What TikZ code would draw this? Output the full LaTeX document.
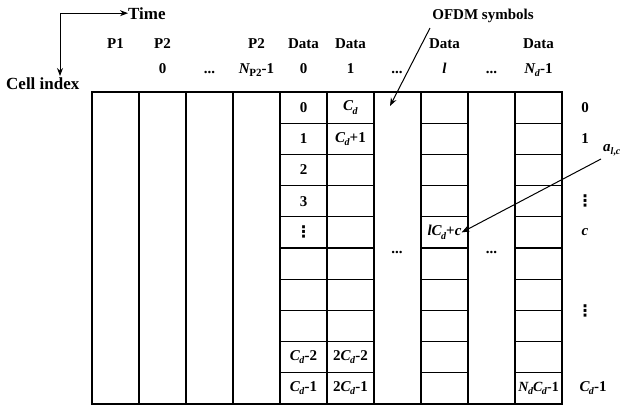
\documentclass[tikz,border=0pt]{standalone}
\usepackage{fontspec}
\setmainfont{Liberation Serif}
\newfontfamily\dvfont{DejaVu Sans}
\usetikzlibrary{arrows.meta}
\newcommand{\Cd}{\textit{C}\kern-0.05em\raisebox{-0.22em}{\fontsize{10}{10}\selectfont\textit{d}}}
\newcommand{\Nd}{\textit{N}\kern-0.05em\raisebox{-0.22em}{\fontsize{10}{10}\selectfont\textit{d}}}
\newcommand{\myvdots}{{\dvfont\bfseries\fontsize{16}{18}\selectfont ⋮}}
\begin{document}
\begin{tikzpicture}[x=1pt,y=-1pt,
  every node/.style={font=\fontsize{15}{18}\selectfont\bfseries, inner sep=0pt},
  big/.style={font=\fontsize{17}{20}\selectfont\bfseries},
  gridline/.style={line width=1.2pt},
  arr/.style={line width=1pt,-{Stealth[length=8pt,width=6pt]}}]
\useasboundingbox (0,0) rectangle (626,408);
% grid
\draw[gridline] (92,92) rectangle (562,404);
\foreach \i in {1,...,9} \draw[gridline] (92+47*\i,92) -- (92+47*\i,404);
\foreach \j in {1,...,9} {
  \draw[gridline] (280,92+31.2*\j) -- (373,92+31.2*\j);
  \draw[gridline] (421,92+31.2*\j) -- (468,92+31.2*\j);
  \draw[gridline] (515,92+31.2*\j) -- (562,92+31.2*\j);
}
% axes
\node[big,anchor=base west] (time) at (128,19) {Time};
\node[big,anchor=base west] (cell) at (6,89) {Cell index};
\coordinate (corner) at (60,14);
\coordinate (down) at (60,76);
\draw[arr] (down |- time.west) -- (time.west);
\draw[arr] (corner) -- (down);
% header row 1
\foreach \x/\t/\n in {115.5/P1/h1, 162.5/P2/h2, 256.5/P2/h3, 303.5/Data/h4, 350.5/Data/h5, 444.5/Data/h6, 538.5/Data/h7}
  \node[anchor=base] (\n) at (\x,48) {\t};
% header row 2
\node[anchor=base] (r0) at (162.5,73) {0};
\node[anchor=base] (r1) at (209.5,73) {...};
\node[anchor=base] (r2) at (256.5,73) {\textit{N}\kern-0.05em\raisebox{-0.22em}{\fontsize{11}{11}\selectfont P2}-1};
\node[anchor=base] (r3) at (303.5,73) {0};
\node[anchor=base] (r4) at (350.5,73) {1};
\node[anchor=base] (r5) at (397,73) {...};
\node[anchor=base] (r6) at (444.5,73) {\textit{l}};
\node[anchor=base] (r7) at (491.5,73) {...};
\node[anchor=base] (r8) at (538.5,73) {\Nd-1};
% cells column Data 0
\foreach \j/\t/\n in {1/0/a1, 2/1/a2, 3/2/a3, 4/3/a4, 5/\myvdots/a5, 9/\Cd-2/a9, 10/\Cd-1/a10}
  \node (\n) at (303.5,92+31.2*\j-15.6) {\t};
\foreach \j/\t/\n in {1/\Cd/b1, 2/\Cd+1/b2, 9/2\Cd-2/b9, 10/2\Cd-1/b10}
  \node (\n) at (350.5,92+31.2*\j-15.6) {\t};
\node (lc) at (444.5,232.4) {\textit{l}\Cd+\textit{c}};
\node (ndcd) at (538.5,388.4) {\fontsize{14}{16}\selectfont\Nd\Cd-1};
% dots in empty columns
\node[anchor=base] (d1) at (397,253) {...};
\node[anchor=base] (d2) at (491.5,253) {...};
% right labels
\node (c0) at (585,107.6) {0};
\node (c1) at (585,138.8) {1};
\node (c2) at (585,201.2) {\myvdots};
\node (c3) at (585,232.4) {\textit{c}};
\node (c4) at (585,311) {\myvdots};
\node (c5) at (593,388.4) {\Cd-1};
% annotations
\node (ofdm) at (483,16) {OFDM symbols};
\coordinate (ofdmtail) at (430,28);
\coordinate (ofdmtip) at (390,106);
\draw[arr] (ofdmtail) -- (ofdmtip);
\node[anchor=west] (alc) at (603,150) {\textit{a}\raisebox{-0.22em}{\fontsize{10}{10}\selectfont\textit{l},\textit{c}}};
\coordinate (alctail) at (601,159);
\draw[arr] (alctail) -- (lc.east);
\end{tikzpicture}
\end{document}
